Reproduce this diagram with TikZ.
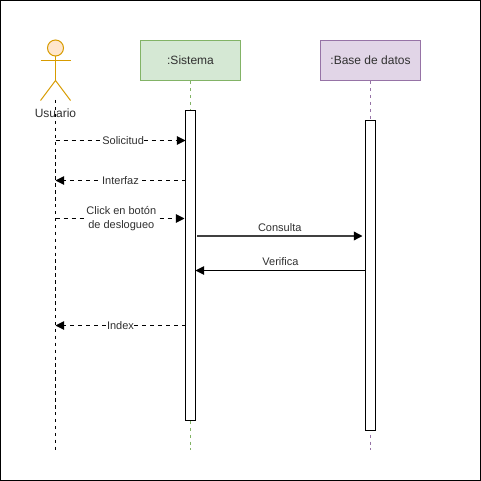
\documentclass[tikz,border=0pt]{standalone}
\usepackage{fontspec}
\setmainfont{Liberation Sans}
\usetikzlibrary{arrows.meta}
\definecolor{actfill}{HTML}{FFE6CC}
\definecolor{actline}{HTML}{D79B00}
\definecolor{sysfill}{HTML}{D5E8D4}
\definecolor{sysline}{HTML}{82B366}
\definecolor{dbfill}{HTML}{E1D5E7}
\definecolor{dbline}{HTML}{9673A6}
\definecolor{txt}{HTML}{303030}
\tikzset{
  objbox/.style={draw=#1,line width=0.75pt,minimum width=75pt,minimum height=30pt,inner sep=0pt,text=txt,font=\fontsize{9}{11}\selectfont},
  actbox/.style={draw=black,fill=white,line width=0.75pt,minimum width=7.5pt,minimum height=#1,inner sep=0pt},
  life/.style={line width=0.75pt,dash pattern=on 2.6pt off 2.6pt},
  msg/.style={line width=0.75pt,-{Triangle[length=6.5pt,width=6.5pt,color=black]}},
  dmsg/.style={msg,dash pattern=on 3pt off 3pt},
  lbl/.style={fill=white,inner sep=0.4pt,text=txt,font=\fontsize{8.25}{10.5}\selectfont,align=center},
  toplbl/.style={inner sep=0pt,text=txt,font=\fontsize{8.25}{11}\selectfont},
  actor/.style={draw=actline,line width=0.75pt}
}
\begin{document}
\begin{tikzpicture}[x=0.75pt,y=-0.75pt]
\useasboundingbox (0,0) rectangle (481,481);
\node[draw=black,line width=0.9pt,minimum width=360pt,minimum height=360pt,inner sep=0pt] (frame) at (240.5,240.5) {};
% objects
\node[objbox=sysline,fill=sysfill] (sys) at (190.5,60.5) {:Sistema};
\node[objbox=dbline,fill=dbfill] (db) at (370.5,60.5) {:Base de datos};
% lifeline ends
\coordinate (usrtop) at (55.5,100);
\coordinate (usrend) at (55.5,450);
\coordinate (sysend) at (190.5,450);
\coordinate (dbend) at (370.5,450);
\draw[life,draw=sysline] (sys.south) -- (sysend);
\draw[life,draw=dbline] (db.south) -- (dbend);
% actor
\node[circle,draw=actline,fill=actfill,line width=0.75pt,minimum size=12pt,inner sep=0pt] (head) at (55.5,48) {};
\coordinate (hip) at (55.5,80.5);
\coordinate (larm) at (40.5,60.5);
\coordinate (rarm) at (70.5,60.5);
\coordinate (lleg) at (40.5,100.5);
\coordinate (rleg) at (70.5,100.5);
\draw[actor] (head.south) -- (hip);
\draw[actor] (larm) -- (rarm);
\draw[actor] (lleg) -- (hip) -- (rleg);
\node[inner sep=0pt,text=txt,font=\fontsize{9}{11}\selectfont] (usr) at (55.5,113.5) {Usuario};
\draw[life,draw=black] (usrtop) -- (usrend);
% activations
\node[actbox=232.5pt] (sysact) at (190.5,265.5) {};
\node[actbox=232.5pt] (dbact) at (370.5,275.5) {};
% messages
\coordinate (a1) at (55.5,140.5); \coordinate (b1) at (185.5,140.5);
\coordinate (b2) at (185.5,180.5); \coordinate (a2) at (55.5,180.5);
\coordinate (a3) at (55.5,218.5); \coordinate (b3) at (184.5,218.5);
\coordinate (b4) at (197,236); \coordinate (c4) at (362.5,236);
\coordinate (c5) at (365.5,270.5); \coordinate (b5) at (195.5,270.5);
\coordinate (b6) at (185.5,325.5); \coordinate (a6) at (55.5,325.5);
\draw[dmsg] (a1) -- node[lbl,pos=0.52] (l1) {Solicitud} (b1);
\draw[dmsg] (b2) -- node[lbl,pos=0.5] (l2) {Interfaz} (a2);
\draw[dmsg] (a3) -- node[lbl,pos=0.51,yshift=-0.4pt] (l3) {Click en botón\\de deslogueo} (b3);
\draw[msg,line width=1pt,draw=black!75] (b4) -- node[toplbl,above=3pt,pos=0.5] (l4) {Consulta} (c4);
\draw[msg] (c5) -- node[toplbl,above=3.2pt,pos=0.5] (l5) {Verifica} (b5);
\draw[dmsg] (b6) -- node[lbl,pos=0.5] (l6) {Index} (a6);
\end{tikzpicture}
\end{document}
